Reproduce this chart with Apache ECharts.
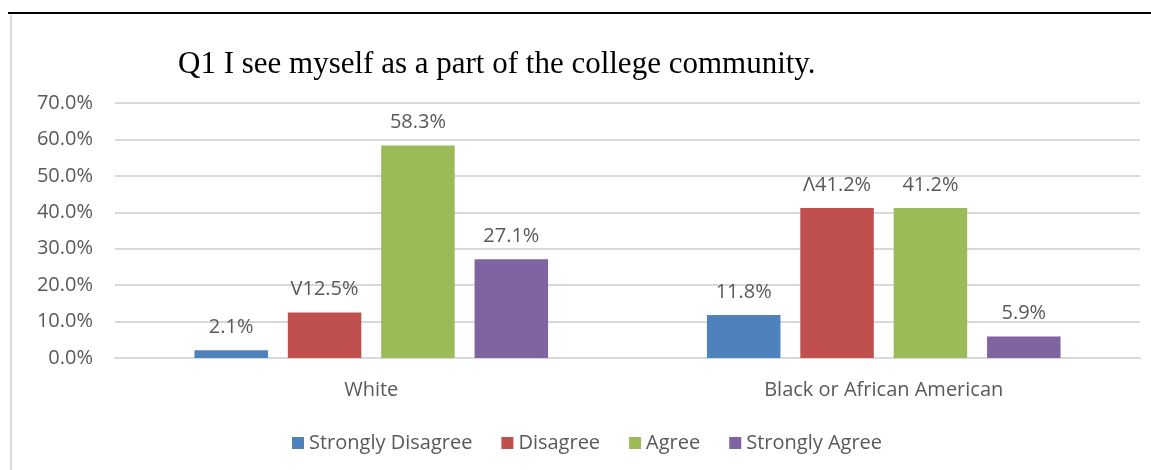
<!DOCTYPE html>
<html>
<head>
<meta charset="utf-8">
<script src="https://cdn.jsdelivr.net/npm/echarts@6/dist/echarts.min.js"></script>
<style>
  html, body { margin: 0; padding: 0; background: #fff; }
  #chart { width: 1151px; height: 470px; }
</style>
</head>
<body>
<div id="chart"></div>
<script>
var groups = ['White', 'Black or African American'];
var responses = ['Strongly Disagree', 'Disagree', 'Agree', 'Strongly Agree'];
var colors = ['#4f81bd', '#c0504d', '#9bbb59', '#8064a2'];
// percent values per response, one per group
var stronglyDisagree = [2.1, 11.8];
var disagree = [12.5, 41.2];
var agree = [58.3, 41.2];
var stronglyAgree = [27.1, 5.9];
// odd marks printed before the Disagree labels in the original
var disagreeMarks = ['V', '\u039b'];
var yTicks = [0, 10, 20, 30, 40, 50, 60, 70];

var chart = echarts.init(document.getElementById('chart'));

var seriesData = [stronglyDisagree, disagree, agree, stronglyAgree];
var series = seriesData.map(function (vals, i) {
    return {
        name: responses[i],
        type: 'bar',
        data: vals,
        barGap: '27%',
        barCategoryGap: '31%',
        itemStyle: { color: colors[i] },
        label: {
            show: true,
            position: 'top',
            distance: 13,
            color: '#595959',
            fontSize: 20,
            fontFamily: 'Open Sans',
            formatter: function (p) {
                var pre = (i === 1) ? disagreeMarks[p.dataIndex] : '';
                return pre + p.value.toFixed(1) + '%';
            }
        }
    };
});

var option = {
    backgroundColor: '#fff',
    animation: false,
    title: {
        text: 'Q1 I see myself as a part of the college community.',
        left: 173,
        top: 44,
        textStyle: {
            fontFamily: 'Liberation Serif',
            fontWeight: 'normal',
            fontSize: 31,
            color: '#000'
        }
    },
    legend: {
        data: responses,
        left: 287,
        top: 428,
        itemWidth: 12,
        itemHeight: 12,
        itemGap: 29,
        icon: 'rect',
        textStyle: { color: '#595959', fontSize: 20, fontFamily: 'Open Sans' }
    },
    grid: { left: 115, right: 11, top: 103, bottom: 112 },
    xAxis: {
        type: 'category',
        data: groups,
        axisTick: { show: false },
        axisLine: { lineStyle: { color: '#d9d9d9', width: 2 } },
        axisLabel: { color: '#595959', fontSize: 20, fontFamily: 'Open Sans', margin: 22 }
    },
    yAxis: {
        type: 'value',
        min: yTicks[0],
        max: yTicks[yTicks.length - 1],
        interval: 10,
        axisLine: { show: false },
        axisTick: { show: false },
        splitLine: { lineStyle: { color: '#d9d9d9', width: 2 } },
        axisLabel: {
            color: '#595959', fontSize: 20, fontFamily: 'Open Sans', margin: 22,
            formatter: function (v) { return v.toFixed(1) + '%'; }
        }
    },
    graphic: [
        { type: 'line', shape: { x1: 8, y1: 13, x2: 1151, y2: 13 }, style: { stroke: '#000', lineWidth: 2 } },
        { type: 'line', shape: { x1: 11, y1: 15, x2: 11, y2: 470 }, style: { stroke: '#d9d9d9', lineWidth: 2 } }
    ],
    series: series
};

chart.setOption(option);
</script>
</body>
</html>
